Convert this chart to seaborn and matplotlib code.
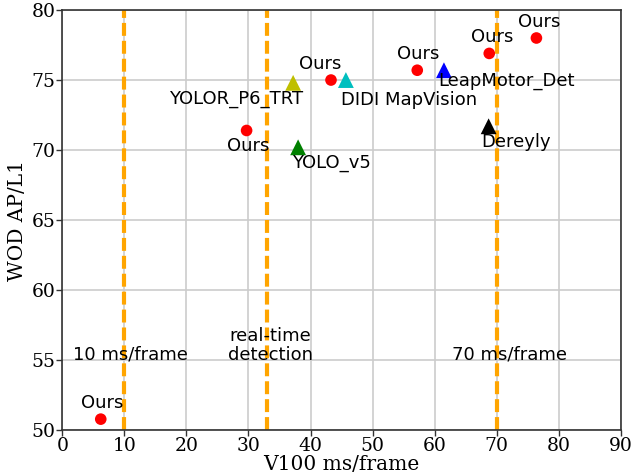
import matplotlib
matplotlib.use("Agg")
import matplotlib.pyplot as plt
import seaborn as sns
import pandas as pd

# Data
ours_x = [6.2, 29.7, 43.3, 57.2, 68.8, 76.4]
ours_y = [50.8, 71.4, 75.0, 75.7, 76.9, 78.0]
ours_label = "Ours"

other_names = ["YOLOR_P6_TRT", "YOLO_v5", "DIDI MapVision", "LeapMotor_Det", "Dereyly"]
other_x = [37.2, 38.0, 45.7, 61.5, 68.7]
other_y = [74.8, 70.2, 75.0, 75.7, 71.7]
other_colors = ["#bfbf00", "#008000", "#00bfbf", "#0000ff", "#000000"]

vlines_x = [10, 33, 70]
vline_labels = ["10 ms/frame", "real-time\ndetection", "70 ms/frame"]
vline_label_x = [11, 33.5, 72]

sns.set_theme(style="whitegrid")
plt.rcParams["font.family"] = ["DejaVu Sans"]
plt.rcParams["text.color"] = "black"

fig, ax = plt.subplots(figsize=(6.42, 4.75), dpi=100)

for xv in vlines_x:
    ax.axvline(xv, color="orange", linestyle="--", linewidth=3, dashes=(3.1, 1.2), zorder=2)

df_ours = pd.DataFrame({"x": ours_x, "y": ours_y})
sns.scatterplot(data=df_ours, x="x", y="y", ax=ax, color="#ff0000", marker="o", s=70,
                edgecolor="none", zorder=3)
df_other = pd.DataFrame({"x": other_x, "y": other_y, "name": other_names})
sns.scatterplot(data=df_other, x="x", y="y", hue="name", palette=other_colors, ax=ax,
                marker="^", s=130, edgecolor="none", legend=False, zorder=3)

fs = 13
# Ours labels
ours_offsets = [(1, 5, "center", "bottom"), (1, -5, "center", "top"), (-8, 5, "center", "bottom"),
                (1, 5, "center", "bottom"), (2, 5, "center", "bottom"), (2, 5, "center", "bottom")]
for x, y, (dx, dy, ha, va) in zip(ours_x, ours_y, ours_offsets):
    ax.annotate(ours_label, (x, y), xytext=(dx, dy), textcoords="offset points",
                ha=ha, va=va, fontsize=fs, color="black")

other_offsets = [(7, -5, "right", "top"), (-4.5, -5, "left", "top"), (-3.5, -8, "left", "top"),
                 (-4, -1.5, "left", "top"), (-5, -4.5, "left", "top")]
for x, y, name, (dx, dy, ha, va) in zip(other_x, other_y, other_names, other_offsets):
    ax.annotate(name, (x, y), xytext=(dx, dy), textcoords="offset points",
                ha=ha, va=va, fontsize=fs, color="black")

for lx, lab in zip(vline_label_x, vline_labels):
    ax.text(lx, 54.75, lab, ha="center", va="bottom", fontsize=fs, color="black",
            linespacing=1.05)

ax.set_xlim(0, 90)
ax.set_ylim(50, 80)
ax.set_xticks(range(0, 91, 10))
ax.set_yticks(range(50, 81, 5))
ax.set_xlabel("V100 ms/frame", family="DejaVu Serif", fontsize=14.5, labelpad=0, color="black")
ax.set_ylabel("WOD AP/L1", family="DejaVu Serif", fontsize=14.5, labelpad=3, color="black")
for lbl in ax.get_xticklabels() + ax.get_yticklabels():
    lbl.set_family("DejaVu Serif")
    lbl.set_fontsize(13.5)
    lbl.set_color("black")
ax.tick_params(axis="both", length=4, width=1, color="#333333", pad=1, direction="out")
ax.tick_params(axis="both", which="both", bottom=True, left=True)
for sp in ax.spines.values():
    sp.set_color("#333333")
    sp.set_linewidth(1.2)
ax.grid(True, color="#cccccc", linewidth=1.2)
ax.set_axisbelow(True)

fig.subplots_adjust(left=0.097, right=0.967, top=0.979, bottom=0.094)
fig.savefig("out.png", dpi=100)
